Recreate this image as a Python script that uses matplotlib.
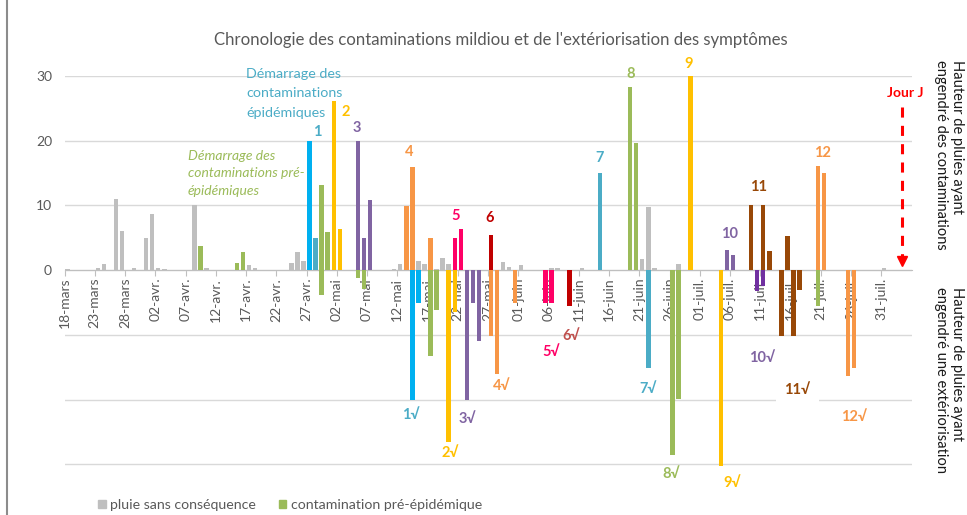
import matplotlib
matplotlib.use("Agg")
import numpy as np
import matplotlib.pyplot as plt
from matplotlib.patches import Patch
from matplotlib.lines import Line2D

plt.rcParams['font.family'] = ['Lato', 'DejaVu Sans']

# ---------------- données (jours comptés depuis le 18 mars) ----------------
tick_jours = list(range(0, 136, 5))
tick_labels = ["18-mars", "23-mars", "28-mars", "02-avr.", "07-avr.", "12-avr.",
               "17-avr.", "22-avr.", "27-avr.", "02-mai", "07-mai", "12-mai",
               "17-mai", "22-mai", "27-mai", "01-juin", "06-juin", "11-juin",
               "16-juin", "21-juin", "26-juin", "01-juil.", "06-juil.", "11-juil.",
               "16-juil.", "21-juil.", "26-juil.", "31-juil."]

pluie_jours = [0, 5, 6, 8, 9, 11, 13, 14, 15, 16, 21, 23, 30, 31, 37, 38, 39,
               54, 55, 58, 59, 61, 62, 63, 72, 73, 75, 80, 81, 85, 95, 96, 97,
               101, 104, 106, 135]
pluie_mm = [0.15, 0.4, 1.0, 11.0, 6.0, 0.4, 5.0, 8.7, 0.4, 0.2, 10.0, 0.4, 0.8,
            0.4, 1.1, 2.8, 1.4, 0.2, 0.9, 1.5, 0.9, 0.15, 1.9, 0.9, 1.2, 0.5, 0.8,
            0.4, 0.4, 0.4, 1.7, 9.7, 0.4, 1.0, 0.1, 0.1, 0.3]

pre_jours = [22, 28, 29, 42, 43]
pre_mm = [3.7, 1.1, 2.8, 13.2, 5.9]
pre_ext_jours = [42, 48, 49, 60, 61, 124]
pre_ext_mm = [-3.8, -1.2, -2.9, -13.3, -6.1, -5.5]

c1_jours = [40, 41]
c1_mm = [20.0, 5.0]
c1_ext_jours = [57, 58]
c1_ext_mm = [-20.1, -5.1]

c2_jours = [44, 45]
c2_mm = [26.2, 6.4]
c2_ext_jours = [63, 64]
c2_ext_mm = [-26.6, -6.5]

c3_jours = [48, 49, 50]
c3_mm = [20.0, 5.0, 10.9]
c3_ext_jours = [66, 67, 68]
c3_ext_mm = [-20.0, -5.1, -11.0]

c4_jours = [56, 57, 60]
c4_mm = [9.9, 15.9, 5.0]
c4_ext_jours = [70, 71, 74]
c4_ext_mm = [-10.1, -16.1, -5.1]

c5_jours = [64, 65]
c5_mm = [5.0, 6.3]
c5_ext_jours = [79, 80]
c5_ext_mm = [-5.1, -5.1]

c6_jours = [70]
c6_mm = [5.4]
c6_ext_jours = [83]
c6_ext_mm = [-5.5]

c7_jours = [88]
c7_mm = [15.0]
c7_ext_jours = [96]
c7_ext_mm = [-15.1]

c8_jours = [93, 94]
c8_mm = [28.3, 19.7]
c8_ext_jours = [100, 101]
c8_ext_mm = [-28.6, -19.9]

c9_jours = [103]
c9_mm = [30.0]
c9_ext_jours = [108]
c9_ext_mm = [-30.3]

c10_jours = [109, 110]
c10_mm = [3.1, 2.4]
c10_ext_jours = [114, 115]
c10_ext_mm = [-3.2, -2.5]

c11_jours = [113, 115, 116, 119]
c11_mm = [10.0, 10.0, 2.9, 5.3]
c11_ext_jours = [118, 120, 121]
c11_ext_mm = [-10.1, -10.1, -3.0]

c12_jours = [124, 125]
c12_mm = [16.1, 15.0]
c12_ext_jours = [129, 130]
c12_ext_mm = [-16.3, -15.1]

jour_j = 138

# étiquettes des contaminations : (texte, jour, hauteur)
etiq_cont = [("1", 41.7, 21.3), ("2", 46.4, 24.5), ("3", 48.4, 22.0), ("4", 57.0, 18.2),
             ("5", 64.7, 8.4), ("6", 70.2, 8.0), ("7", 88.4, 17.3), ("8", 93.6, 30.3),
             ("9", 103.1, 31.8), ("10", 110.0, 5.6), ("11", 114.7, 12.8), ("12", 125.2, 18.1)]
etiq_ext = [("1√", 57.3, -22.4), ("2√", 63.7, -28.3), ("3√", 66.6, -23.0), ("4√", 72.3, -17.9),
            ("5√", 80.4, -12.6), ("6√", 83.8, -10.1), ("7√", 96.5, -18.3), ("8√", 100.3, -31.5),
            ("9√", 110.3, -32.8), ("10√", 115.3, -13.6), ("11√", 121.1, -18.5), ("12√", 130.5, -22.7)]

# ---------------- couleurs ----------------
GRIS = "#BFBFBF"
VERT = "#9BBB59"
BLEU = "#00B0F0"
TURQ = "#4BACC6"
JAUNE = "#FFC000"
VIOLET = "#8064A2"
VIOLET_F = "#7030A0"
ORANGE = "#F79646"
ROSE = "#FF0066"
ROUGE = "#C00000"
BRUN = "#984807"

W, H, DPI = 967, 515, 100
fig = plt.figure(figsize=(W / DPI, H / DPI), dpi=DPI)
ax_left, ax_right = 64.5 / W, 911.5 / W
ax_top, ax_bot = (H - 76) / H, (H - 477.4) / H
ax = fig.add_axes([ax_left, ax_bot, ax_right - ax_left, ax_top - ax_bot])
ax.set_xlim(0, 140)
ax.set_ylim(-32, 30)

bw = 0.72
def barres(jours, vals, col, label=None):
    return ax.bar(np.asarray(jours) + 0.5, vals, width=bw, color=col, zorder=3,
                  linewidth=0, label=label)

h_pluie = barres(pluie_jours, pluie_mm, GRIS)
h_pre = barres(pre_jours, pre_mm, VERT)
barres(pre_ext_jours, pre_ext_mm, VERT)
barres(c1_jours, c1_mm, [BLEU, TURQ])
barres(c1_ext_jours, c1_ext_mm, BLEU)
barres(c2_jours, c2_mm, JAUNE)
barres(c2_ext_jours, c2_ext_mm, JAUNE)
barres(c3_jours, c3_mm, VIOLET)
barres(c3_ext_jours, c3_ext_mm, VIOLET)
barres(c4_jours, c4_mm, ORANGE)
barres(c4_ext_jours, c4_ext_mm, ORANGE)
barres(c5_jours, c5_mm, ROSE)
barres(c5_ext_jours, c5_ext_mm, ROSE)
barres(c6_jours, c6_mm, ROUGE)
barres(c6_ext_jours, c6_ext_mm, ROUGE)
barres(c7_jours, c7_mm, TURQ)
barres(c7_ext_jours, c7_ext_mm, TURQ)
barres(c8_jours, c8_mm, VERT)
barres(c8_ext_jours, c8_ext_mm, VERT)
barres(c9_jours, c9_mm, JAUNE)
barres(c9_ext_jours, c9_ext_mm, JAUNE)
barres(c10_jours, c10_mm, VIOLET)
barres(c10_ext_jours, c10_ext_mm, VIOLET_F)
barres(c11_jours, c11_mm, BRUN)
barres(c11_ext_jours, c11_ext_mm, BRUN)
barres(c12_jours, c12_mm, ORANGE)
barres(c12_ext_jours, c12_ext_mm, ORANGE)

# axes / grille
ax.set_yticks([-30, -20, -10, 0, 10, 20, 30])
ax.set_yticklabels(["", "", "", "0", "10", "20", "30"])
ax.yaxis.grid(True, color="#D9D9D9", linewidth=1.0, zorder=0)
ax.set_axisbelow(True)
ax.tick_params(axis="y", length=0, pad=9, labelsize=10, labelcolor="#595959")
for s in ["top", "right", "left"]:
    ax.spines[s].set_visible(False)
ax.spines["bottom"].set_position(("data", 0))
ax.spines["bottom"].set_color("#BFBFBF")
ax.spines["bottom"].set_zorder(2)
ax.set_xticks(tick_jours)
ax.set_xticklabels(tick_labels, rotation=90)
ax.tick_params(axis="x", direction="out", length=4, color="#BFBFBF", pad=1.5,
               labelsize=10, labelcolor="#595959")

# étiquettes
col_etiq = {"1": TURQ, "2": JAUNE, "3": VIOLET, "4": ORANGE, "5": ROSE, "6": ROUGE,
            "7": TURQ, "8": VERT, "9": JAUNE, "10": VIOLET, "11": BRUN, "12": ORANGE}
for t, x, y in etiq_cont:
    ax.text(x, y, t, color=col_etiq[t], fontsize=10.5, fontweight="bold",
            ha="center", va="center", zorder=5)
for t, x, y in etiq_ext:
    k = t[:-1]
    c = "#C0504D" if k == "6" else col_etiq[k]
    kw = {}
    if k == "11":
        kw["bbox"] = dict(facecolor="white", edgecolor="none", pad=6)
    ax.text(x, y, t, color=c, fontsize=10.5, fontweight="bold",
            ha="center", va="center", zorder=5, **kw)

ax.text(30.0, 31.3, "Démarrage des\ncontaminations\népidémiques", color=TURQ,
        fontsize=10.3, ha="left", va="top", linespacing=1.75, zorder=6)
ax.text(20.4, 18.6, "Démarrage des\ncontaminations pré-\népidémiques", color=VERT,
        fontsize=10, style="italic", ha="left", va="top", linespacing=1.55, zorder=6)

# Jour J
ax.plot([jour_j + 0.4, jour_j + 0.4], [25.2, 2.2], color="red", linewidth=2.2,
        dashes=(3.3, 2.7), zorder=6, solid_capstyle="butt")
ax.plot([jour_j + 0.4], [1.5], marker="v", color="red", markersize=7, zorder=6)
ax.text(jour_j + 1.0, 27.4, "Jour J", color="red", fontsize=10, fontweight="bold",
        ha="center", va="center", zorder=6)

# titre et axes secondaires
fig.text(501 / W, (H - 40) / H,
         "Chronologie des contaminations mildiou et de l'extériorisation des symptômes",
         ha="center", va="center", fontsize=12.1, color="#595959")
fig.text(949 / W, (H - 155) / H, "Hauteur de pluies ayant\nengendré des contaminations",
         rotation=270, ha="center", va="center", multialignment="left",
         fontsize=10.5, color="#1a1a1a", linespacing=1.25)
fig.text(949 / W, (H - 380) / H, "Hauteur de pluies ayant\nengendré une extériorisation",
         rotation=270, ha="center", va="center", multialignment="left",
         fontsize=10.5, color="#1a1a1a", linespacing=1.25)

# légende
fig.legend(handles=[Patch(color=GRIS), Patch(color=VERT)],
           labels=["pluie sans conséquence", "contamination pré-épidémique"],
           loc="center left", bbox_to_anchor=(98 / W, 10 / H), ncol=2, frameon=False,
           handlelength=0.55, handleheight=0.55, handletextpad=0.3, columnspacing=1.6,
           fontsize=10.2, labelcolor="#595959", borderpad=0, borderaxespad=0)

# bordure gauche
fig.add_artist(Line2D([7 / W, 7 / W], [0, 1], transform=fig.transFigure,
                      color="#8C8C8C", linewidth=1.5))

fig.savefig("out.png", dpi=DPI)
